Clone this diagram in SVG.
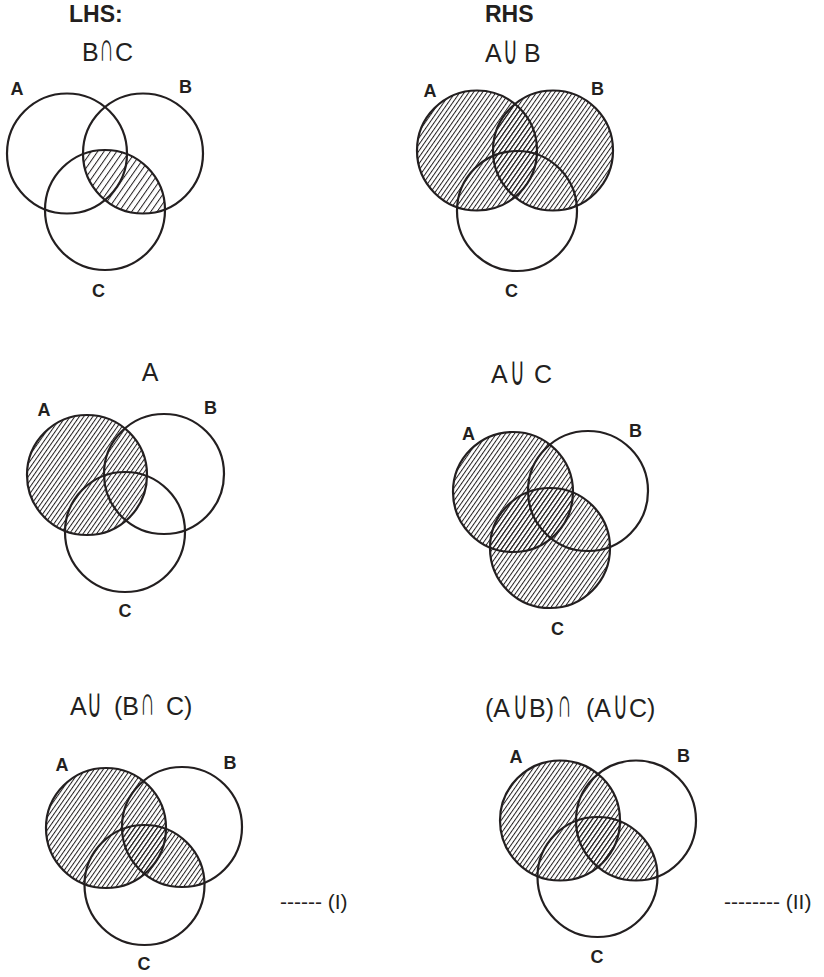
<svg xmlns="http://www.w3.org/2000/svg" width="824" height="977" viewBox="0 0 824 977">
<style>
.c{fill:none;stroke:#231f20;stroke-width:2.2}
.t{font-family:"Liberation Sans",Arial,"DejaVu Sans",sans-serif;font-size:25px;fill:#231f20}
.s{font-family:"Liberation Sans",Arial,"DejaVu Sans",sans-serif;font-size:24px;fill:#231f20}
.h{font-family:"Liberation Sans",Arial,sans-serif;font-size:23px;font-weight:bold;fill:#231f20}
.l{font-family:"Liberation Sans",Arial,sans-serif;font-size:18px;font-weight:bold;fill:#231f20;text-anchor:middle}
.d{font-family:"Liberation Sans",Arial,sans-serif;font-size:21px;fill:#231f20}
</style>
<defs>
<pattern id="hs" patternUnits="userSpaceOnUse" width="5.2" height="10" patternTransform="rotate(35)"><line x1="0.5" y1="0" x2="0.5" y2="10" stroke="#231f20" stroke-width="1"/></pattern>
<pattern id="hd" patternUnits="userSpaceOnUse" width="3.7" height="10" patternTransform="rotate(35)"><line x1="0.5" y1="0" x2="0.5" y2="10" stroke="#231f20" stroke-width="1"/></pattern>
<clipPath id="tlC"><circle cx="105" cy="210" r="60"/></clipPath>
<clipPath id="blC"><circle cx="144.5" cy="885" r="60"/></clipPath>
<clipPath id="brC"><circle cx="597.5" cy="877" r="60"/></clipPath>
</defs>

<g id="headings">
<text class="h" x="69" y="22">LHS:</text>
<text class="h" x="485" y="22">RHS</text>
</g>

<g id="diagram-b-cap-c">
<text class="t" x="82" y="61">B</text>
<text class="s" transform="translate(99,61) scale(0.85,1.7)">∩</text>
<text class="t" x="115" y="61">C</text>
<circle cx="143" cy="153.5" r="60" fill="url(#hs)" clip-path="url(#tlC)"/>
<circle class="c" cx="67" cy="153.5" r="60"/>
<circle class="c" cx="143" cy="153.5" r="60"/>
<circle class="c" cx="105" cy="210" r="60"/>
<text class="l" x="17" y="95">A</text>
<text class="l" x="185.5" y="93">B</text>
<text class="l" x="98.5" y="297">C</text>
</g>

<g id="diagram-a-cup-b">
<text class="t" x="485" y="62">A</text>
<text class="s" transform="translate(503,64) scale(0.85,1.7)">∪</text>
<text class="t" x="524" y="62">B</text>
<circle cx="477" cy="150.5" r="60" fill="url(#hd)"/>
<circle cx="553" cy="150.5" r="60" fill="url(#hd)"/>
<circle class="c" cx="477" cy="150.5" r="60"/>
<circle class="c" cx="553" cy="150.5" r="60"/>
<circle class="c" cx="517" cy="211" r="60"/>
<text class="l" x="430" y="97">A</text>
<text class="l" x="597.5" y="95">B</text>
<text class="l" x="511.5" y="297">C</text>
</g>

<g id="diagram-a">
<text class="t" x="150" y="381" text-anchor="middle">A</text>
<circle cx="87" cy="475" r="60" fill="url(#hd)"/>
<circle class="c" cx="87" cy="475" r="60"/>
<circle class="c" cx="164" cy="474" r="60"/>
<circle class="c" cx="125" cy="532" r="60"/>
<text class="l" x="44" y="416">A</text>
<text class="l" x="210.5" y="414">B</text>
<text class="l" x="125" y="617">C</text>
</g>

<g id="diagram-a-cup-c">
<text class="t" x="491" y="383">A</text>
<text class="s" transform="translate(510,385) scale(0.85,1.7)">∪</text>
<text class="t" x="534" y="383">C</text>
<circle cx="513" cy="492" r="60" fill="url(#hd)"/>
<circle cx="550" cy="548" r="60" fill="url(#hd)"/>
<circle class="c" cx="513" cy="492" r="60"/>
<circle class="c" cx="588" cy="491" r="60"/>
<circle class="c" cx="550" cy="548" r="60"/>
<text class="l" x="468.5" y="440">A</text>
<text class="l" x="635.5" y="437">B</text>
<text class="l" x="557.5" y="635">C</text>
</g>

<g id="diagram-lhs-result">
<text class="t" x="70" y="715">A</text>
<text class="s" transform="translate(87,717) scale(0.85,1.7)">∪</text>
<text class="t" x="114" y="715">(B</text>
<text class="s" transform="translate(140,715) scale(0.85,1.7)">∩</text>
<text class="t" x="166" y="715">C)</text>
<circle cx="106" cy="828" r="60" fill="url(#hd)"/>
<circle cx="182" cy="827" r="60" fill="url(#hd)" clip-path="url(#blC)"/>
<circle class="c" cx="106" cy="828" r="60"/>
<circle class="c" cx="182" cy="827" r="60"/>
<circle class="c" cx="144.5" cy="885" r="60"/>
<text class="l" x="62" y="771">A</text>
<text class="l" x="230" y="769">B</text>
<text class="l" x="144" y="970">C</text>
<text class="d" x="280" y="909">------ (I)</text>
</g>

<g id="diagram-rhs-result">
<text class="t" x="485" y="717">(A</text>
<text class="s" transform="translate(513,719) scale(0.85,1.7)">∪</text>
<text class="t" x="529" y="717">B)</text>
<text class="s" transform="translate(557,717) scale(0.85,1.7)">∩</text>
<text class="t" x="586" y="717">(A</text>
<text class="s" transform="translate(613,719) scale(0.85,1.7)">∪</text>
<text class="t" x="629" y="717">C)</text>
<circle cx="560" cy="820.5" r="60" fill="url(#hd)"/>
<circle cx="636" cy="820.5" r="60" fill="url(#hd)" clip-path="url(#brC)"/>
<circle class="c" cx="560" cy="820.5" r="60"/>
<circle class="c" cx="636" cy="820.5" r="60"/>
<circle class="c" cx="597.5" cy="877" r="60"/>
<text class="l" x="516" y="763">A</text>
<text class="l" x="683.5" y="762">B</text>
<text class="l" x="597" y="963">C</text>
<text class="d" x="724" y="909">-------- (II)</text>
</g>

<g id="connectors"></g>
</svg>
